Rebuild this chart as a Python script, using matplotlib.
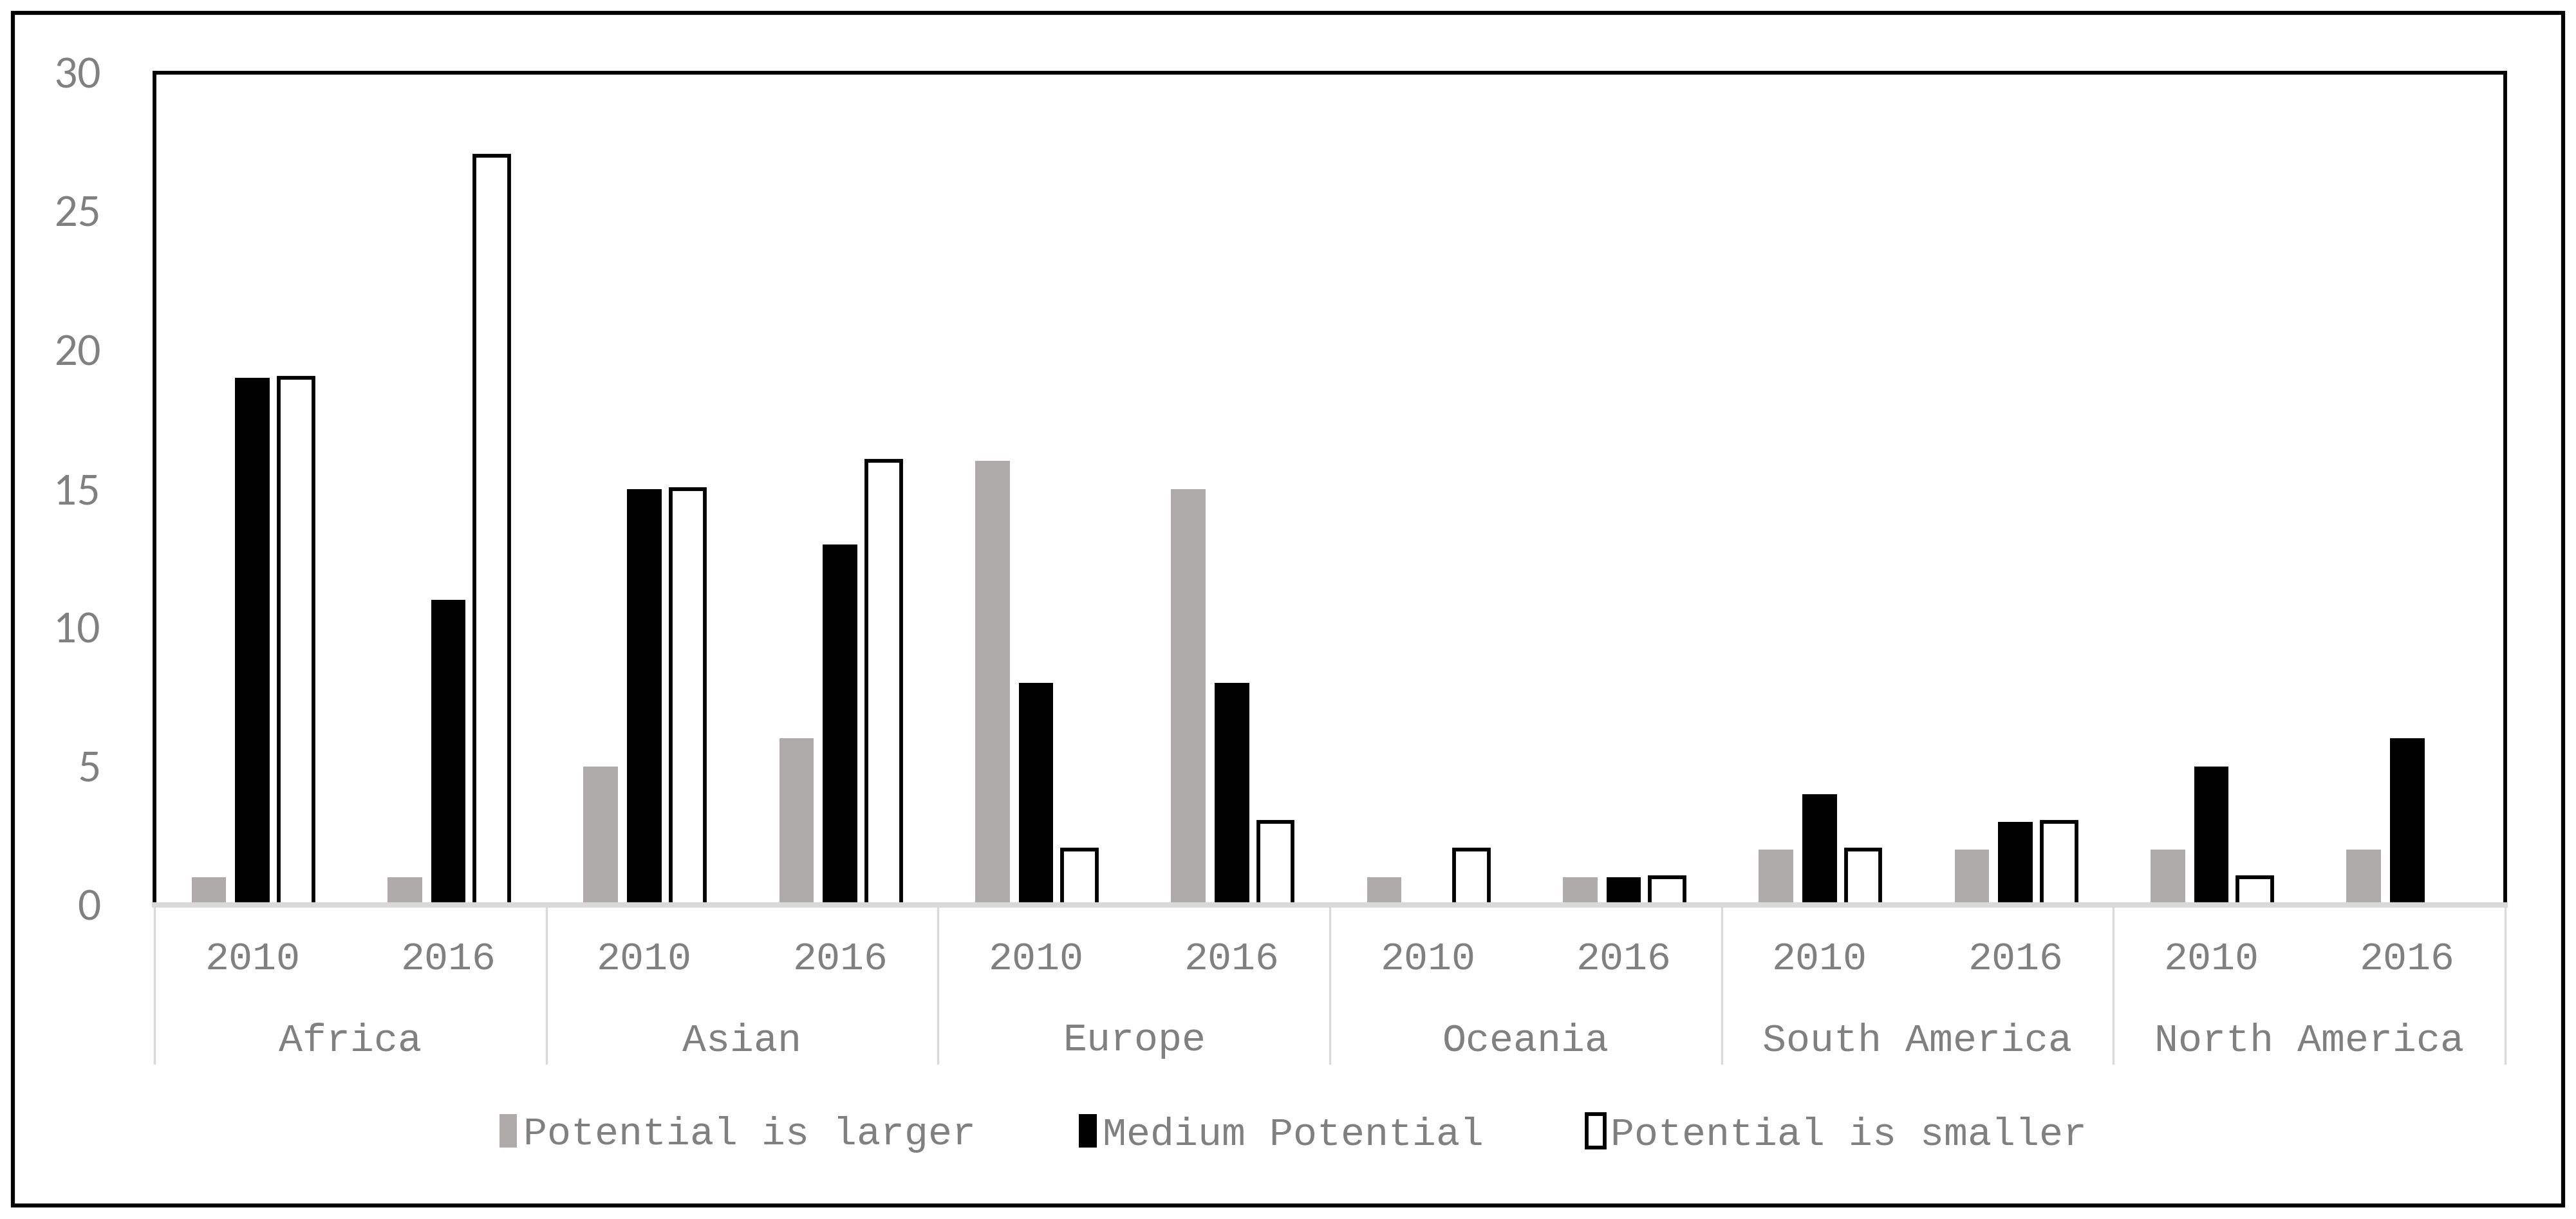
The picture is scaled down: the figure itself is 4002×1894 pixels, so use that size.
import numpy as np
import matplotlib
matplotlib.use("Agg")
import matplotlib.pyplot as plt
from matplotlib.patches import Rectangle
from matplotlib.transforms import blended_transform_factory

# data
continents = ["Africa", "Asian", "Europe", "Oceania", "South America", "North America"]
years = ["2010", "2016"]
larger = [1, 1, 5, 6, 16, 15, 1, 1, 2, 2, 2, 2]      # Potential is larger
medium = [19, 11, 15, 13, 8, 8, 0, 1, 4, 3, 5, 6]    # Medium Potential
smaller = [19, 27, 15, 16, 2, 3, 2, 1, 2, 3, 1, 0]   # Potential is smaller
series_names = ["Potential is larger", "Medium Potential", "Potential is smaller"]

W, H = 4002, 1894
dpi = 300
fig = plt.figure(figsize=(W / dpi, H / dpi), dpi=dpi)
fig.patch.set_facecolor("white")

# outer frame around the whole chart
fig.patches.append(Rectangle((20 / W, 1 - 1873 / H), 3962 / W, 1853 / H,
                             transform=fig.transFigure, fill=False,
                             edgecolor="black", linewidth=1.5))

ax = fig.add_axes([240 / W, 1 - 1406 / H, (3892 - 240) / W, (1406 - 113) / H])

grey = "#AFABAB"
txt = "#808080"
mono = "Liberation Mono"

n = len(larger)
x = np.arange(n)
off = 0.222
bw = 0.176
ax.bar(x - off, larger, bw, color=grey, linewidth=0, label=series_names[0])
ax.bar(x, medium, bw, color="black", linewidth=0, label=series_names[1])
ax.bar(x + off, smaller, bw, color="white", edgecolor="black",
       linewidth=[1.4 if v > 0 else 0 for v in smaller], label=series_names[2])

ax.set_xlim(-0.5, n - 0.5)
ax.set_ylim(0, 30)
ax.set_yticks(np.arange(0, 31, 5))
ax.tick_params(axis="y", length=0, pad=20, labelsize=15, labelcolor=txt)
for lab in ax.get_yticklabels():
    lab.set_fontfamily("Lato")
ax.set_xticks([])

for s in ["left", "top", "right"]:
    ax.spines[s].set_color("black")
    ax.spines[s].set_linewidth(1.4)
ax.spines["bottom"].set_color("#D9D9D9")
ax.spines["bottom"].set_linewidth(2.0)

# two-level category axis
tr = blended_transform_factory(ax.transData, ax.transAxes)
for i in range(n):
    ax.text(x[i], -0.066, years[i % 2], transform=tr, ha="center", va="center",
            fontsize=14.8, color=txt, family=mono)
for j, c in enumerate(continents):
    ax.text(2 * j + 0.5, -0.163, c, transform=tr, ha="center", va="center",
            fontsize=14.8, color=txt, family=mono)
for b in np.arange(-0.5, n, 2):
    ax.plot([b, b], [0, -0.19], transform=tr, color="#D9D9D9", lw=0.8,
            clip_on=False)

leg = fig.legend(loc="center", bbox_to_anchor=(0.502, 0.07), ncol=3,
                 frameon=False, handlelength=0.45, handleheight=0.9,
                 handletextpad=0.15, columnspacing=2.6,
                 prop={"family": mono, "size": 14.8})
for t in leg.get_texts():
    t.set_color(txt)

fig.savefig("out.png", dpi=dpi, facecolor="white")
